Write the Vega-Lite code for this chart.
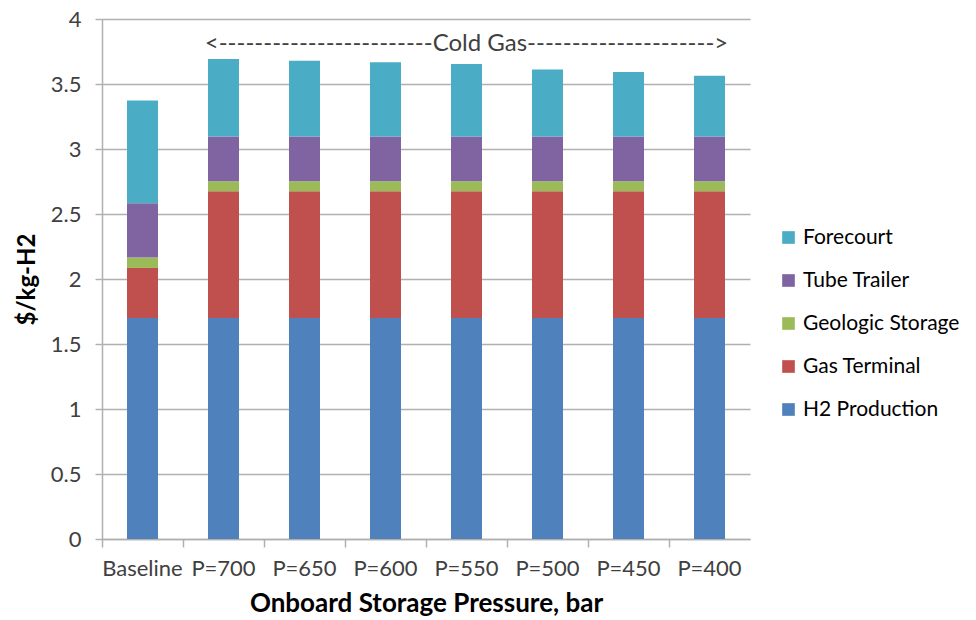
{
  "$schema": "https://vega.github.io/schema/vega-lite/v6.json",
  "autosize": "none",
  "width": 648,
  "height": 520,
  "padding": {"left": 102, "top": 19, "right": 226, "bottom": 81},
  "background": "white",
  "config": {
    "font": "Lato",
    "view": {"stroke": null}
  },
  "datasets": {
    "costs": [
      {"case": "Baseline", "component": "H2 Production", "rank": 1, "value": 1.70},
      {"case": "Baseline", "component": "Gas Terminal", "rank": 2, "value": 0.385},
      {"case": "Baseline", "component": "Geologic Storage", "rank": 3, "value": 0.08},
      {"case": "Baseline", "component": "Tube Trailer", "rank": 4, "value": 0.418},
      {"case": "Baseline", "component": "Forecourt", "rank": 5, "value": 0.79},
      {"case": "P=700", "component": "H2 Production", "rank": 1, "value": 1.70},
      {"case": "P=700", "component": "Gas Terminal", "rank": 2, "value": 0.975},
      {"case": "P=700", "component": "Geologic Storage", "rank": 3, "value": 0.077},
      {"case": "P=700", "component": "Tube Trailer", "rank": 4, "value": 0.344},
      {"case": "P=700", "component": "Forecourt", "rank": 5, "value": 0.596},
      {"case": "P=650", "component": "H2 Production", "rank": 1, "value": 1.70},
      {"case": "P=650", "component": "Gas Terminal", "rank": 2, "value": 0.975},
      {"case": "P=650", "component": "Geologic Storage", "rank": 3, "value": 0.077},
      {"case": "P=650", "component": "Tube Trailer", "rank": 4, "value": 0.344},
      {"case": "P=650", "component": "Forecourt", "rank": 5, "value": 0.583},
      {"case": "P=600", "component": "H2 Production", "rank": 1, "value": 1.70},
      {"case": "P=600", "component": "Gas Terminal", "rank": 2, "value": 0.975},
      {"case": "P=600", "component": "Geologic Storage", "rank": 3, "value": 0.077},
      {"case": "P=600", "component": "Tube Trailer", "rank": 4, "value": 0.344},
      {"case": "P=600", "component": "Forecourt", "rank": 5, "value": 0.571},
      {"case": "P=550", "component": "H2 Production", "rank": 1, "value": 1.70},
      {"case": "P=550", "component": "Gas Terminal", "rank": 2, "value": 0.975},
      {"case": "P=550", "component": "Geologic Storage", "rank": 3, "value": 0.077},
      {"case": "P=550", "component": "Tube Trailer", "rank": 4, "value": 0.344},
      {"case": "P=550", "component": "Forecourt", "rank": 5, "value": 0.558},
      {"case": "P=500", "component": "H2 Production", "rank": 1, "value": 1.70},
      {"case": "P=500", "component": "Gas Terminal", "rank": 2, "value": 0.975},
      {"case": "P=500", "component": "Geologic Storage", "rank": 3, "value": 0.077},
      {"case": "P=500", "component": "Tube Trailer", "rank": 4, "value": 0.344},
      {"case": "P=500", "component": "Forecourt", "rank": 5, "value": 0.516},
      {"case": "P=450", "component": "H2 Production", "rank": 1, "value": 1.70},
      {"case": "P=450", "component": "Gas Terminal", "rank": 2, "value": 0.975},
      {"case": "P=450", "component": "Geologic Storage", "rank": 3, "value": 0.077},
      {"case": "P=450", "component": "Tube Trailer", "rank": 4, "value": 0.344},
      {"case": "P=450", "component": "Forecourt", "rank": 5, "value": 0.496},
      {"case": "P=400", "component": "H2 Production", "rank": 1, "value": 1.70},
      {"case": "P=400", "component": "Gas Terminal", "rank": 2, "value": 0.975},
      {"case": "P=400", "component": "Geologic Storage", "rank": 3, "value": 0.077},
      {"case": "P=400", "component": "Tube Trailer", "rank": 4, "value": 0.344},
      {"case": "P=400", "component": "Forecourt", "rank": 5, "value": 0.468}
    ],
    "note": [
      {"case": "P=550", "value": 3.81, "label": "<------------------------Cold Gas--------------------->"}
    ]
  },
  "layer": [
    {
      "data": {"name": "costs"},
      "mark": {"type": "bar", "width": 31},
      "encoding": {
        "x": {
          "field": "case",
          "type": "nominal",
          "sort": ["Baseline", "P=700", "P=650", "P=600", "P=550", "P=500", "P=450", "P=400"],
          "scale": {"paddingInner": 0, "paddingOuter": 0},
          "axis": {
            "title": "Onboard Storage Pressure, bar",
            "titleFont": "Lato",
            "titleFontSize": 26,
            "titleFontWeight": "bold",
            "titleColor": "#000000",
            "titlePadding": 11,
            "labelAngle": 0,
            "labelFontSize": 22,
            "labelColor": "#404040",
            "labelPadding": 19,
            "ticks": false,
            "domainColor": "#b0b0b0",
            "domainWidth": 1.5,
            "grid": false
          }
        },
        "y": {
          "field": "value",
          "type": "quantitative",
          "stack": "zero",
          "scale": {"domain": [0, 4], "nice": false},
          "axis": {
            "title": "$/kg-H2",
            "titleFontSize": 24,
            "titleFontWeight": "bold",
            "titleColor": "#000000",
            "titlePadding": 11,
            "values": [0, 0.5, 1, 1.5, 2, 2.5, 3, 3.5, 4],
            "format": "~g",
            "labelFontSize": 22,
            "labelColor": "#404040",
            "labelPadding": 14,
            "tickSize": 7,
            "tickColor": "#b0b0b0",
            "tickWidth": 1.5,
            "domainColor": "#b0b0b0",
            "domainWidth": 1.5,
            "grid": true,
            "gridColor": "#b0b0b0",
            "gridWidth": 1.5
          }
        },
        "color": {
          "field": "component",
          "type": "nominal",
          "scale": {
            "domain": ["Forecourt", "Tube Trailer", "Geologic Storage", "Gas Terminal", "H2 Production"],
            "range": ["#4BACC6", "#8064A2", "#9BBB59", "#C0504D", "#4F81BD"]
          },
          "legend": {
            "title": null,
            "orient": "none",
            "legendX": 676,
            "legendY": 208,
            "symbolType": "square",
            "symbolSize": 160,
            "symbolStrokeWidth": 0,
            "labelFontSize": 21,
            "labelLimit": 300,
            "labelColor": "#000000",
            "labelOffset": 4,
            "rowPadding": 21
          }
        },
        "order": {"field": "rank", "type": "quantitative"}
      }
    },
    {
      "data": {"name": "costs"},
      "mark": {"type": "tick", "opacity": 0},
      "encoding": {
        "x": {
          "field": "case",
          "type": "nominal",
          "sort": ["Baseline", "P=700", "P=650", "P=600", "P=550", "P=500", "P=450", "P=400"],
          "axis": {
            "orient": "bottom",
            "title": null,
            "labels": false,
            "domain": false,
            "grid": false,
            "ticks": true,
            "bandPosition": 0,
            "tickSize": 8,
            "tickColor": "#b0b0b0",
            "tickWidth": 1.5
          }
        }
      }
    },
    {
      "data": {"name": "note"},
      "mark": {"type": "text", "fontSize": 24, "color": "#404040", "font": "Lato"},
      "encoding": {
        "x": {"field": "case", "type": "nominal", "sort": ["Baseline", "P=700", "P=650", "P=600", "P=550", "P=500", "P=450", "P=400"], "axis": null},
        "y": {"field": "value", "type": "quantitative", "axis": {"title": "$/kg-H2"}},
        "text": {"field": "label"}
      }
    }
  ],
  "resolve": {"axis": {"x": "independent"}}
}
